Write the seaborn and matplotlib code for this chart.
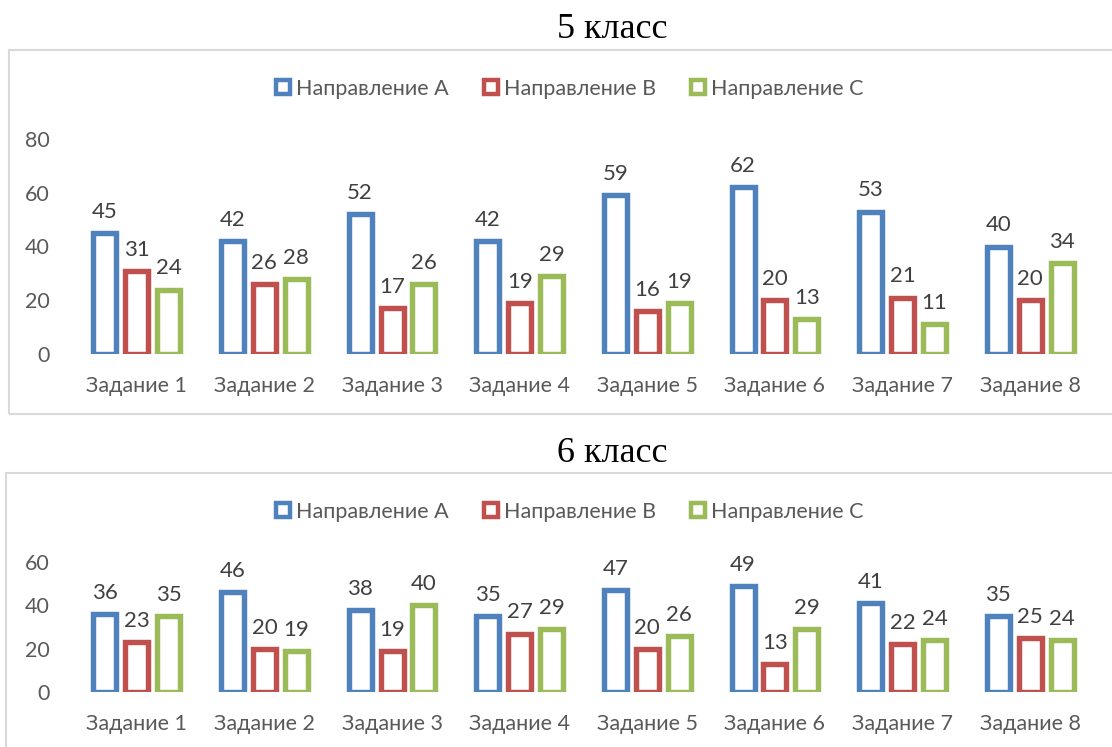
import matplotlib
matplotlib.use("Agg")
import matplotlib.pyplot as plt
from matplotlib.patches import Rectangle
from matplotlib.lines import Line2D
import seaborn as sns
import pandas as pd

# Survey results per task, by direction
tasks = ["Задание 1", "Задание 2", "Задание 3", "Задание 4",
         "Задание 5", "Задание 6", "Задание 7", "Задание 8"]
directions = ["Направление А", "Направление В", "Направление С"]

grade5_a = [45, 42, 52, 42, 59, 62, 53, 40]
grade5_b = [31, 26, 17, 19, 16, 20, 21, 20]
grade5_c = [24, 28, 26, 29, 19, 13, 11, 34]

grade6_a = [36, 46, 38, 35, 47, 49, 41, 35]
grade6_b = [23, 20, 19, 27, 20, 13, 22, 25]
grade6_c = [35, 19, 40, 29, 26, 29, 24, 24]

titles = ["5 класс", "6 класс"]
yticks5 = [0, 20, 40, 60, 80]
yticks6 = [0, 20, 40, 60]

colors = ["#4F81BD", "#C0504D", "#9BBB59"]
AXIS_GREY = "#595959"
LABEL_GREY = "#404040"
FONT = "Lato"
TICK_SIZE = 15.5
VALUE_SIZE = 16

sns.set_theme(style="white")
plt.rcParams["font.family"] = [FONT, "DejaVu Sans"]

W, H = 1112, 747
fig = plt.figure(figsize=(W / 100, H / 100), dpi=100)


def frac_x(px):
    return px / W


def frac_y(px):
    return 1 - px / H


def long_frame(a, b, c):
    rows = []
    for series, vals in zip(directions, (a, b, c)):
        for t, v in zip(tasks, vals):
            rows.append({"task": t, "direction": series, "value": v})
    return pd.DataFrame(rows)


def panel(ax, df, yticks, ytop):
    sns.barplot(data=df, x="task", y="value", hue="direction",
                order=tasks, hue_order=directions, palette=colors,
                fill=False, linewidth=3.9, width=0.75, gap=0.28,
                errorbar=None, legend=False, ax=ax)
    for cont in ax.containers:
        ax.bar_label(cont, fmt="%d", padding=8, fontsize=VALUE_SIZE,
                     color=LABEL_GREY, family=FONT)
    ax.set_xlim(-0.5, len(tasks) - 0.5)
    ax.set_ylim(0, ytop)
    ax.set_yticks(yticks)
    ax.set_xlabel("")
    ax.set_ylabel("")
    for s in ax.spines.values():
        s.set_visible(False)
    ax.tick_params(axis="y", length=0, pad=17, labelsize=TICK_SIZE,
                   labelcolor=AXIS_GREY)
    ax.tick_params(axis="x", length=0, pad=16, labelsize=TICK_SIZE,
                   labelcolor=AXIS_GREY)
    ax.patch.set_alpha(0)
    ax.grid(False)


def legend_handles():
    return [Line2D([], [], linestyle="none", marker="s", markersize=10.5,
                   markerfacecolor="white", markeredgecolor=c,
                   markeredgewidth=3.2) for c in colors]


# chart frames
fig.patches.append(Rectangle((9, H - 414), 1110, 364, transform=None,
                             fill=False, edgecolor="#D9D9D9", linewidth=1.5))
fig.patches.append(Rectangle((6, -10), 1110, H - 473 + 10, transform=None,
                             fill=False, edgecolor="#D9D9D9", linewidth=1.5))

ax_left = frac_x(73)
ax_w = frac_x(1094 - 73)

ax1 = fig.add_axes([ax_left, frac_y(354), ax_w, (354 - 139) / H])
panel(ax1, long_frame(grade5_a, grade5_b, grade5_c), yticks5, 80)

ax2 = fig.add_axes([ax_left, frac_y(692), ax_w, (692 - 562) / H])
panel(ax2, long_frame(grade6_a, grade6_b, grade6_c), yticks6, 60)

for title, ty in zip(titles, (29, 453)):
    fig.text(frac_x(612), frac_y(ty), title, ha="center", va="center",
             fontsize=26, family="Liberation Serif", color="black")

for ly in (89, 512):
    fig.legend(legend_handles(), directions, loc="center",
               bbox_to_anchor=(frac_x(569), frac_y(ly)), ncol=3,
               frameon=False, fontsize=TICK_SIZE, labelcolor=AXIS_GREY,
               handlelength=0.8, handletextpad=0.2, columnspacing=1.55,
               borderaxespad=0)

fig.savefig("out.png", dpi=100)
